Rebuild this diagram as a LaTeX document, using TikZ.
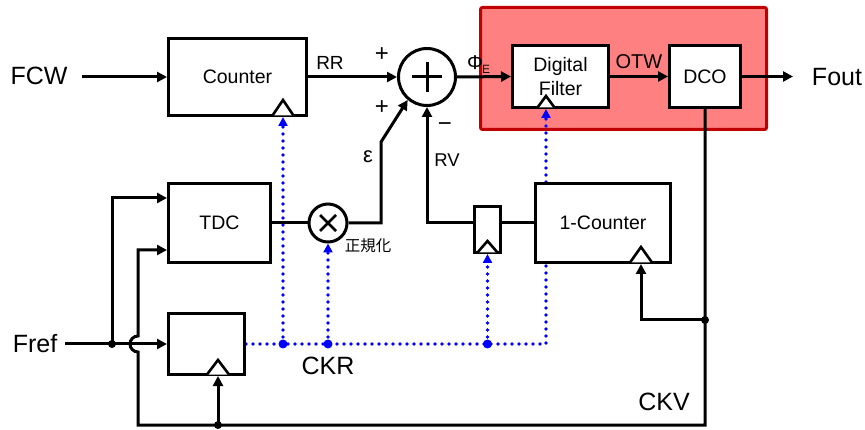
\documentclass[tikz,border=0pt]{standalone}
\usepackage{fontspec}
\setmainfont{Liberation Sans}
\newfontfamily\jpfont{Noto Sans CJK JP}
\usetikzlibrary{arrows.meta,calc,backgrounds}
\definecolor{redfill}{RGB}{255,128,128}
\definecolor{redline}{RGB}{192,0,0}
\newcommand\clktri[3]{\draw[clkln] ($(#1)+(-#2,-1.5)$) -- ($(#1)+(0,-#3)$) -- ($(#1)+(#2,-1.5)$);}
\begin{document}
\begin{tikzpicture}[x=1pt,y=-1pt,
  wire/.style={line width=3pt,line join=miter},
  arr/.style={wire,-{Triangle[length=10pt,width=10pt]}},
  blk/.style={draw,line width=3pt,fill=white,rectangle,inner sep=0pt,font=\fontsize{19.5}{24}\selectfont,align=center},
  sumnode/.style={draw,line width=3pt,fill=white,circle,inner sep=0pt},
  clkln/.style={draw,line width=2.6pt,line join=miter,fill=white},
  ck/.style={blue,line width=3.6pt,dash pattern=on 0pt off 7pt,line cap=round},
  ckarr/.style={ck,-{Triangle[length=9pt,width=9pt]}},
  big/.style={inner sep=0pt,font=\fontsize{25}{30}\selectfont},
  mid/.style={inner sep=0pt,font=\fontsize{19.5}{22}\selectfont},
  jb/.style={circle,fill=black,inner sep=0pt,minimum size=8pt},
  jbl/.style={circle,fill=blue,inner sep=0pt,minimum size=9pt},
]
\useasboundingbox (0,0) rectangle (865,430);
% highlighted region
\begin{scope}[on background layer]
  \node[draw=redline,fill=redfill,line width=3pt,rounded corners=2pt,minimum width=286pt,minimum height=122pt,inner sep=0pt] (hl) at (623.5,68.5) {};
\end{scope}
% blocks
\node[blk,minimum width=138pt,minimum height=77pt] (cnt) at (237.5,77) {Counter};
\node[blk,minimum width=96pt,minimum height=62pt] (df) at (560.5,76.5) {Digital\\Filter};
\node[blk,minimum width=71pt,minimum height=62pt] (dco) at (705,76.5) {DCO};
\node[blk,minimum width=102pt,minimum height=79pt] (tdc) at (219.5,223) {TDC};
\node[blk,minimum width=76pt,minimum height=61pt] (rg1) at (206.5,344) {};
\node[blk,minimum width=26pt,minimum height=46pt] (rg2) at (487.5,229.5) {};
\node[blk,minimum width=135pt,minimum height=79pt] (c1) at (603,223) {1-Counter};
\node[sumnode,minimum size=57pt] (add) at (427,77) {};
\node[sumnode,minimum size=38pt] (mul) at (328,223) {};
\draw[line width=3pt] ($(add)+(-15,0)$) -- ($(add)+(15,0)$) ($(add)+(0,-15)$) -- ($(add)+(0,15)$);
\draw[line width=2.5pt] ($(mul)+(-8,-8)$) -- ($(mul)+(8,8)$) ($(mul)+(-8,8)$) -- ($(mul)+(8,-8)$);
% clock positions
\coordinate (cntclk) at ($(cnt.south west)+(116,0)$);
\coordinate (dfclk) at ($(df.south west)+(35,0)$);
\coordinate (rg2clk) at (rg2.south);
\coordinate (rg1clk) at ($(rg1.south west)+(51,0)$);
\coordinate (c1clk) at ($(c1.south west)+(107,0)$);
\clktri{cntclk}{10.5}{17}
\clktri{dfclk}{8.5}{13}
\clktri{rg2clk}{10}{13}
\clktri{rg1clk}{11}{16}
\clktri{c1clk}{11}{17}
% labels
\node[big] (fcw) at (39,76) {FCW};
\node[big] (fref) at (35,344) {Fref};
\node[big] (fout) at (837,77) {Fout};
\node[big] (ckr) at (328,366) {CKR};
\node[big] (ckv) at (664,402) {CKV};
\node[mid,font=\fontsize{19}{22}\selectfont] (rr) at (330,63) {RR};
\node[mid,font=\fontsize{20}{22}\selectfont] (otw) at (639,62) {OTW};
\node[mid,font=\fontsize{18.5}{22}\selectfont] (rv) at (447,160) {RV};
\node[mid,font=\fontsize{22}{22}\selectfont] (eps) at (368,157) {ε};
\node[inner sep=0pt,font=\fontsize{24}{24}\selectfont] (p1) at (382,55) {+};
\node[inner sep=0pt,font=\fontsize{24}{24}\selectfont] (p2) at (382,108) {+};
\node[inner sep=0pt,font=\fontsize{24}{24}\selectfont] (mn) at (445,127) {−};
\node[inner sep=0pt,anchor=base west] (phie) at (467,70) {\fontsize{20}{20}\selectfont Φ\kern-1pt\raisebox{-4pt}{\fontsize{12}{12}\selectfont E}};
\node[inner sep=0pt,font=\jpfont\fontsize{15.5}{16}\selectfont] (norm) at (368,246) {正規化};
% coordinates
\coordinate (fcwin) at (82,77);
\coordinate (foutend) at (793,76.5);
\coordinate (frefin) at (65,344);
\coordinate (jf) at (112,344);
\coordinate (br) at (705,425);
\coordinate (bl) at (138,425);
\coordinate (hopB) at (138,352);
\coordinate (tdcin1) at ($(tdc.north west)+(0,16)$);
\coordinate (tdcin2) at ($(tdc.south west)+(0,-14)$);
\coordinate (jv) at (705,320);
\coordinate (ebend) at (381,142);
% black wires
\draw[arr] (fcwin) -- (cnt.west);
\draw[arr] (cnt.east) -- (add.west);
\draw[arr] (add.east) -- (df.west);
\draw[arr] (df.east) -- (dco.west);
\draw[arr] (dco.east) -- (foutend);
\draw[arr] (dco.south) -- (br) -- (bl) -- (hopB) arc[start angle=270,end angle=90,radius=8pt] |- (tdcin2);
\draw[arr] (frefin) -- (rg1.west);
\draw[arr] (jf) |- (tdcin1);
\draw[arr] (rg1clk |- br) -- (rg1clk);
\draw[arr] (jv) -| (c1clk);
\draw[wire] (tdc.east) -- (mul.west);
\draw[arr] (mul.east) -| (ebend) -- (add.230);
\draw[arr] (rg2.west |- c1.west) -| (add.south);
\draw[wire] (rg2.east |- c1.west) -- (c1.west);
\node[jb] (jfd) at (jf) {};
\node[jb] (jbd) at (rg1clk |- br) {};
\node[jb] (jvd) at (jv) {};
% clock distribution (dotted)
\begin{scope}[on background layer]
  \draw[ckarr] (rg1.east) -| (dfclk);
  \draw[ckarr] (cntclk |- rg1.east) -- (cntclk);
  \draw[ckarr] (mul.south |- rg1.east) -- (mul.south);
  \draw[ckarr] (rg2clk |- rg1.east) -- (rg2clk);
\end{scope}
\node[jbl] (d1) at (cntclk |- rg1.east) {};
\node[jbl] (d2) at (mul.south |- rg1.east) {};
\node[jbl] (d3) at (rg2clk |- rg1.east) {};
\end{tikzpicture}
\end{document}
